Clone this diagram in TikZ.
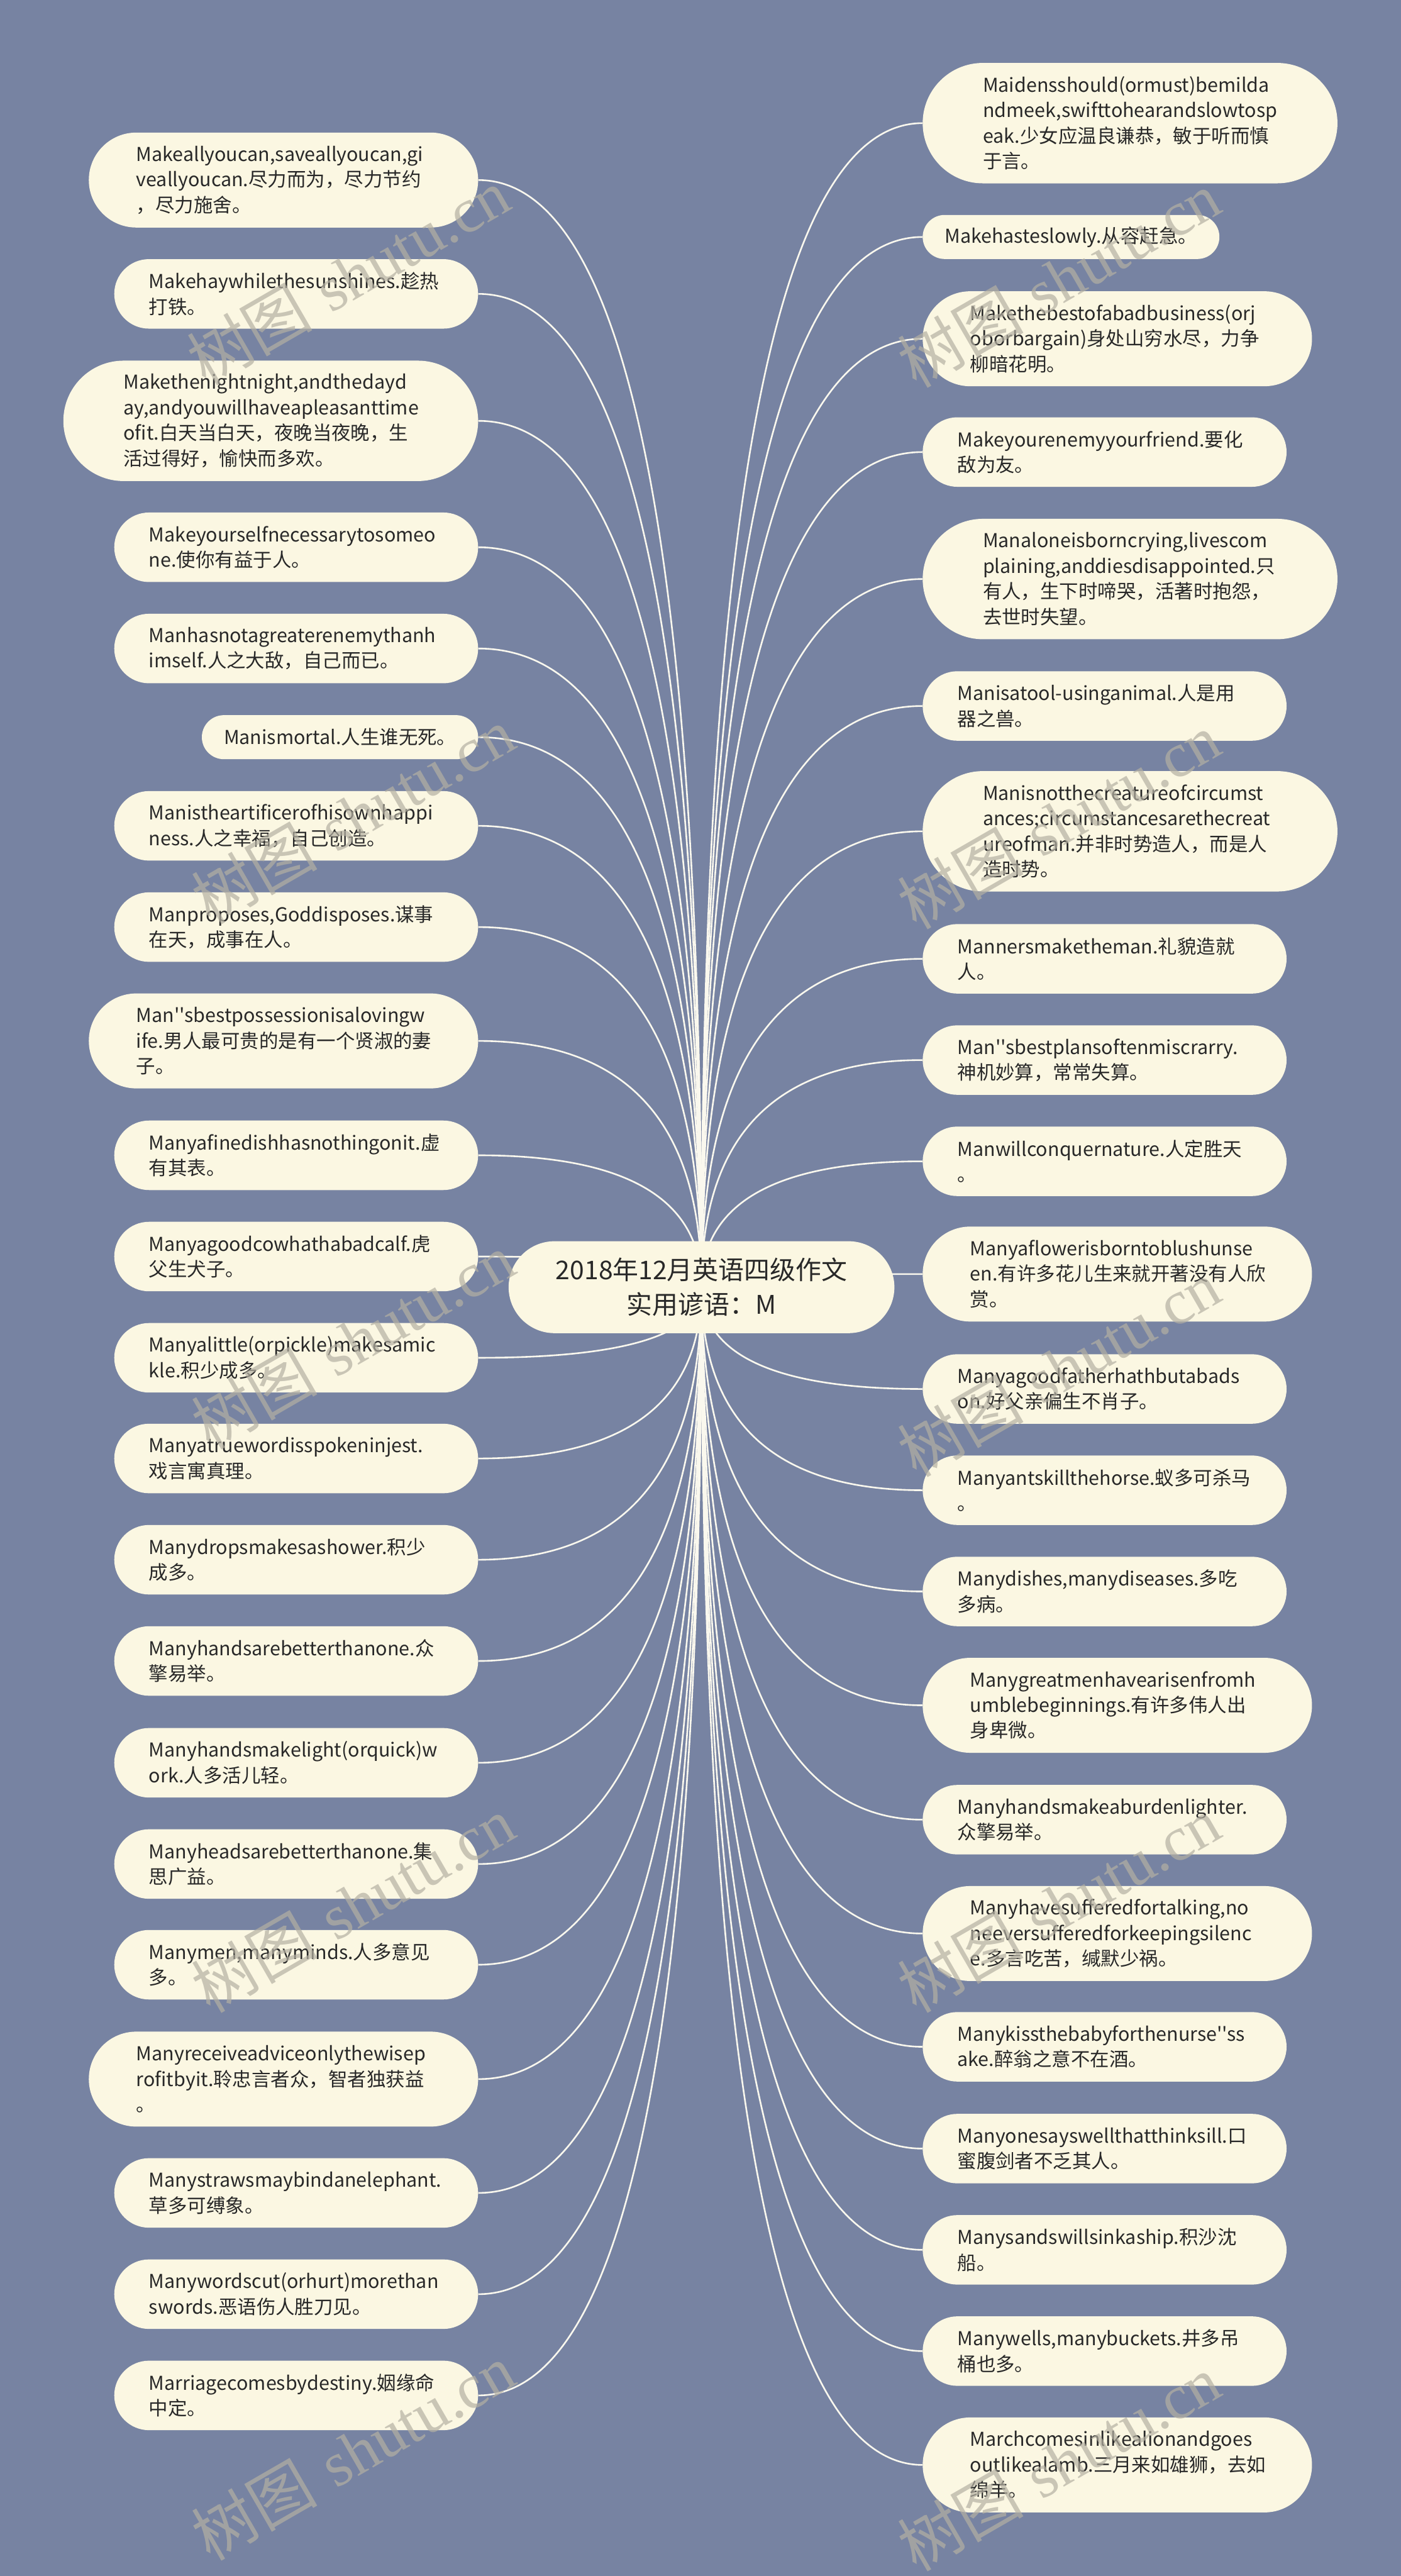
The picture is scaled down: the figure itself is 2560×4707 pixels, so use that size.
\documentclass[tikz,border=0pt]{standalone}
\usepackage{fontspec}
\newfontfamily\cjk{Noto Sans CJK SC}
\newfontfamily\wmserif{Liberation Serif}
\usetikzlibrary{backgrounds,calc}
\hyphenpenalty=10000
\exhyphenpenalty=10000
\definecolor{bg}{RGB}{119,131,162}
\definecolor{nodefill}{RGB}{251,247,226}
\definecolor{txt}{RGB}{40,40,40}
\definecolor{conn}{RGB}{250,248,238}
\definecolor{wm}{RGB}{180,176,162}
\tikzset{
  leaf/.style={fill=nodefill, text=txt, font=\cjk\fontsize{35}{46.5}\selectfont, inner ysep=0pt, align=left},
  pone/.style={leaf, minimum height=80.5pt, inner xsep=40.25pt, rounded corners=40.25pt},
  ptwo/.style={leaf, text width=538pt, minimum height=127pt, inner xsep=63.5pt, rounded corners=63.5pt},
  pthree/.style={leaf, text width=538pt, minimum height=173.5pt, inner xsep=86.75pt, rounded corners=86.75pt},
  pfour/.style={leaf, text width=538pt, minimum height=220pt, inner xsep=110pt, rounded corners=110pt},
  lft/.style={anchor=east},
  rgt/.style={anchor=west},
  root/.style={fill=nodefill, text=txt, font=\cjk\fontsize{47}{63}\selectfont, align=center, minimum width=705pt, minimum height=168pt, rounded corners=84pt},
  link/.style={draw=conn, line width=3pt},
  wmark/.style={text=wm, opacity=0.7, rotate=30, font=\fontsize{115}{125}\selectfont}
}
\begin{document}
\begin{tikzpicture}[x=1pt,y=-1pt]
\useasboundingbox (0,0) rectangle (2560,4707);
% root
\node[root] (c) at (1282,2352) {2018年12月英语四级作文\\实用谚语：M};
% left column
\node[pthree,lft] (l1) at (874,329) {Makeallyoucan,saveallyoucan,gi\\veallyoucan.尽力而为，尽力节约\\，尽力施舍。};
\node[ptwo,lft] (l2) at (874,537) {Makehaywhilethesunshines.趁热\\打铁。};
\node[pfour,lft] (l3) at (874,769) {Makethenightnight,andthedayd\\ay,andyouwillhaveapleasanttime\\ofit.白天当白天，夜晚当夜晚，生\\活过得好，愉快而多欢。};
\node[ptwo,lft] (l4) at (874,1000) {Makeyourselfnecessarytosomeo\\ne.使你有益于人。};
\node[ptwo,lft] (l5) at (874,1185) {Manhasnotagreaterenemythanh\\imself.人之大敌，自己而已。};
\node[pone,lft] (l6) at (874,1347) {Manismortal.人生谁无死。};
\node[ptwo,lft] (l7) at (874,1509) {Manistheartificerofhisownhappi\\ness.人之幸福，自己创造。};
\node[ptwo,lft] (l8) at (874,1694) {Manproposes,Goddisposes.谋事\\在天，成事在人。};
\node[pthree,lft] (l9) at (874,1902) {Man''sbestpossessionisalovingw\\ife.男人最可贵的是有一个贤淑的妻\\子。};
\node[ptwo,lft] (l10) at (874,2111) {Manyafinedishhasnothingonit.虚\\有其表。};
\node[ptwo,lft] (l11) at (874,2296) {Manyagoodcowhathabadcalf.虎\\父生犬子。};
\node[ptwo,lft] (l12) at (874,2481) {Manyalittle(orpickle)makesamic\\kle.积少成多。};
\node[ptwo,lft] (l13) at (874,2665) {Manyatruewordisspokeninjest.\\戏言寓真理。};
\node[ptwo,lft] (l14) at (874,2850) {Manydropsmakesashower.积少\\成多。};
\node[ptwo,lft] (l15) at (874,3035) {Manyhandsarebetterthanone.众\\擎易举。};
\node[ptwo,lft] (l16) at (874,3221) {Manyhandsmakelight(orquick)w\\ork.人多活儿轻。};
\node[ptwo,lft] (l17) at (874,3406) {Manyheadsarebetterthanone.集\\思广益。};
\node[ptwo,lft] (l18) at (874,3590) {Manymen,manyminds.人多意见\\多。};
\node[pthree,lft] (l19) at (874,3799) {Manyreceiveadviceonlythewisep\\rofitbyit.聆忠言者众，智者独获益\\。};
\node[ptwo,lft] (l20) at (874,4007) {Manystrawsmaybindanelephant.\\草多可缚象。};
\node[ptwo,lft] (l21) at (874,4192) {Manywordscut(orhurt)morethan\\swords.恶语伤人胜刀见。};
\node[ptwo,lft] (l22) at (874,4377) {Marriagecomesbydestiny.姻缘命\\中定。};
% right column
\node[pfour,rgt] (r1) at (1686,225) {Maidensshould(ormust)bemilda\\ndmeek,swifttohearandslowtosp\\eak.少女应温良谦恭，敏于听而慎\\于言。};
\node[pone,rgt] (r2) at (1686,433) {Makehasteslowly.从容赶急。};
\node[pthree,rgt] (r3) at (1686,619) {Makethebestofabadbusiness(orj\\oborbargain)身处山穷水尽，力争\\柳暗花明。};
\node[ptwo,rgt] (r4) at (1686,826) {Makeyourenemyyourfriend.要化\\敌为友。};
\node[pfour,rgt] (r5) at (1686,1058) {Manaloneisborncrying,livescom\\plaining,anddiesdisappointed.只\\有人，生下时啼哭，活著时抱怨，\\去世时失望。};
\node[ptwo,rgt] (r6) at (1686,1290) {Manisatool-usinganimal.人是用\\器之兽。};
\node[pfour,rgt] (r7) at (1686,1519) {Manisnotthecreatureofcircumst\\ances;circumstancesarethecreat\\ureofman.并非时势造人，而是人\\造时势。};
\node[ptwo,rgt] (r8) at (1686,1752) {Mannersmaketheman.礼貌造就\\人。};
\node[ptwo,rgt] (r9) at (1686,1937) {Man''sbestplansoftenmiscrarry.\\神机妙算，常常失算。};
\node[ptwo,rgt] (r10) at (1686,2122) {Manwillconquernature.人定胜天\\。};
\node[pthree,rgt] (r11) at (1686,2328) {Manyaflowerisborntoblushunse\\en.有许多花儿生来就开著没有人欣\\赏。};
\node[ptwo,rgt] (r12) at (1686,2538) {Manyagoodfatherhathbutabads\\on.好父亲偏生不肖子。};
\node[ptwo,rgt] (r13) at (1686,2723) {Manyantskillthehorse.蚁多可杀马\\。};
\node[ptwo,rgt] (r14) at (1686,2908) {Manydishes,manydiseases.多吃\\多病。};
\node[pthree,rgt] (r15) at (1686,3116) {Manygreatmenhavearisenfromh\\umblebeginnings.有许多伟人出\\身卑微。};
\node[ptwo,rgt] (r16) at (1686,3325) {Manyhandsmakeaburdenlighter.\\众擎易举。};
\node[pthree,rgt] (r17) at (1686,3533) {Manyhavesufferedfortalking,no\\neeversufferedforkeepingsilenc\\e.多言吃苦，缄默少祸。};
\node[ptwo,rgt] (r18) at (1686,3740) {Manykissthebabyforthenurse''ss\\ake.醉翁之意不在酒。};
\node[ptwo,rgt] (r19) at (1686,3926) {Manyonesayswellthatthinksill.口\\蜜腹剑者不乏其人。};
\node[ptwo,rgt] (r20) at (1686,4111) {Manysandswillsinkaship.积沙沈\\船。};
\node[ptwo,rgt] (r21) at (1686,4296) {Manywells,manybuckets.井多吊\\桶也多。};
\node[pthree,rgt] (r22) at (1686,4504) {Marchcomesinlikealionandgoes\\outlikealamb.三月来如雄狮，去如\\绵羊。};
% connectors
\begin{pgfonlayer}{background}
\fill[bg] (0,0) rectangle (2560,4707);
\foreach \n in {l1,l2,l3,l4,l5,l6,l7,l8,l9,l10,l11,l12,l13,l14,l15,l16,l17,l18,l19,l20,l21,l22}{
  \coordinate (k) at (c.center |- \n.east);
  \draw[link] (\n.east) .. controls ($(\n.east)!0.667!(k)$) and ($(c.center)!0.667!(k)$) .. (c.center);
}
\foreach \n in {r1,r2,r3,r4,r5,r6,r7,r8,r9,r10,r11,r12,r13,r14,r15,r16,r17,r18,r19,r20,r21,r22}{
  \coordinate (k) at (c.center |- \n.west);
  \draw[link] (\n.west) .. controls ($(\n.west)!0.667!(k)$) and ($(c.center)!0.667!(k)$) .. (c.center);
}
\end{pgfonlayer}
% watermarks
\foreach \i/\px/\py in {1/636/505,2/1935/510,3/645/1490,4/1935/1500,5/645/2450,6/1935/2500,7/645/3480,8/1935/3480,9/645/4480,10/1935/4500}{
  \node[wmark] (w\i) at (\px,\py) {{\cjk 树图} {\wmserif shutu.cn}};
}
\end{tikzpicture}
\end{document}
